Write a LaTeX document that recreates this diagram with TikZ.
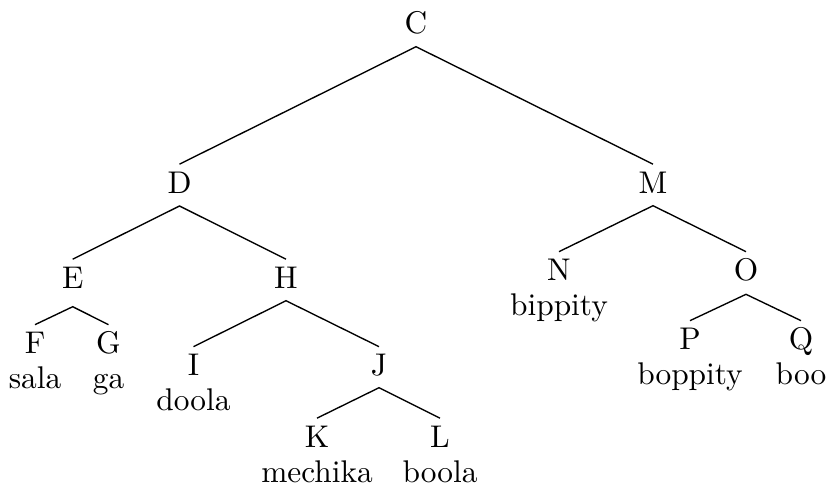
\documentclass[tikz,border=0pt]{standalone}
\begin{document}
\begin{tikzpicture}[x=0.33pt,y=-0.33pt,
  every node/.style={font=\fontsize{10.35pt}{12.4pt}\selectfont},
  lab/.style={anchor=base,inner xsep=0pt,inner ysep=2.25pt,text height=7.07pt,text depth=0pt},
  word/.style={anchor=base,inner sep=0pt},
  edge/.style={draw,line width=0.45pt}]
\useasboundingbox (0,0) rectangle (827,489);
% internal nodes
\node[lab] (C) at (416,33) {C};
\node[lab] (D) at (179.5,193) {D};
\node[lab] (M) at (653,193) {M};
\node[lab] (E) at (72.7,288) {E};
\node[lab] (H) at (286,288) {H};
\node[lab] (N) at (559,280.5) {N};
\node[lab] (O) at (746,280.5) {O};
\node[lab] (F) at (35,353.5) {F};
\node[lab] (G) at (108.5,353.5) {G};
\node[lab] (I) at (193.5,375.5) {I};
\node[lab] (J) at (379,375.5) {J};
\node[lab] (P) at (690,349.5) {P};
\node[lab] (Q) at (801,349.5) {Q};
\node[lab] (K) at (317,447) {K};
\node[lab] (L) at (440,447) {L};
% leaf words
\node[word] (Nw) at (559,315.5) {bippity};
\node[word] (Fw) at (35,388.5) {sala};
\node[word] (Gw) at (108.5,388.5) {ga};
\node[word] (Iw) at (193.5,410.5) {doola};
\node[word] (Pw) at (690,384.5) {boppity};
\node[word] (Qw) at (801,384.5) {boo};
\node[word] (Kw) at (317,482) {mechika};
\node[word] (Lw) at (440,482) {boola};
% apex points
\coordinate (Ca) at (416,46.7);
\coordinate (Da) at (179.5,206);
\coordinate (Ma) at (653,205.7);
\coordinate (Ea) at (72.7,306.7);
\coordinate (Ha) at (286,300.7);
\coordinate (Oa) at (746,294.3);
\coordinate (Ja) at (379,387.7);
% edges
\draw[edge] (D.north) -- (Ca) -- (M.north);
\draw[edge] (E.north) -- (Da) -- (H.north);
\draw[edge] (N.north) -- (Ma) -- (O.north);
\draw[edge] (F.north) -- (Ea) -- (G.north);
\draw[edge] (I.north) -- (Ha) -- (J.north);
\draw[edge] (P.north) -- (Oa) -- (Q.north);
\draw[edge] (K.north) -- (Ja) -- (L.north);
\end{tikzpicture}
\end{document}
